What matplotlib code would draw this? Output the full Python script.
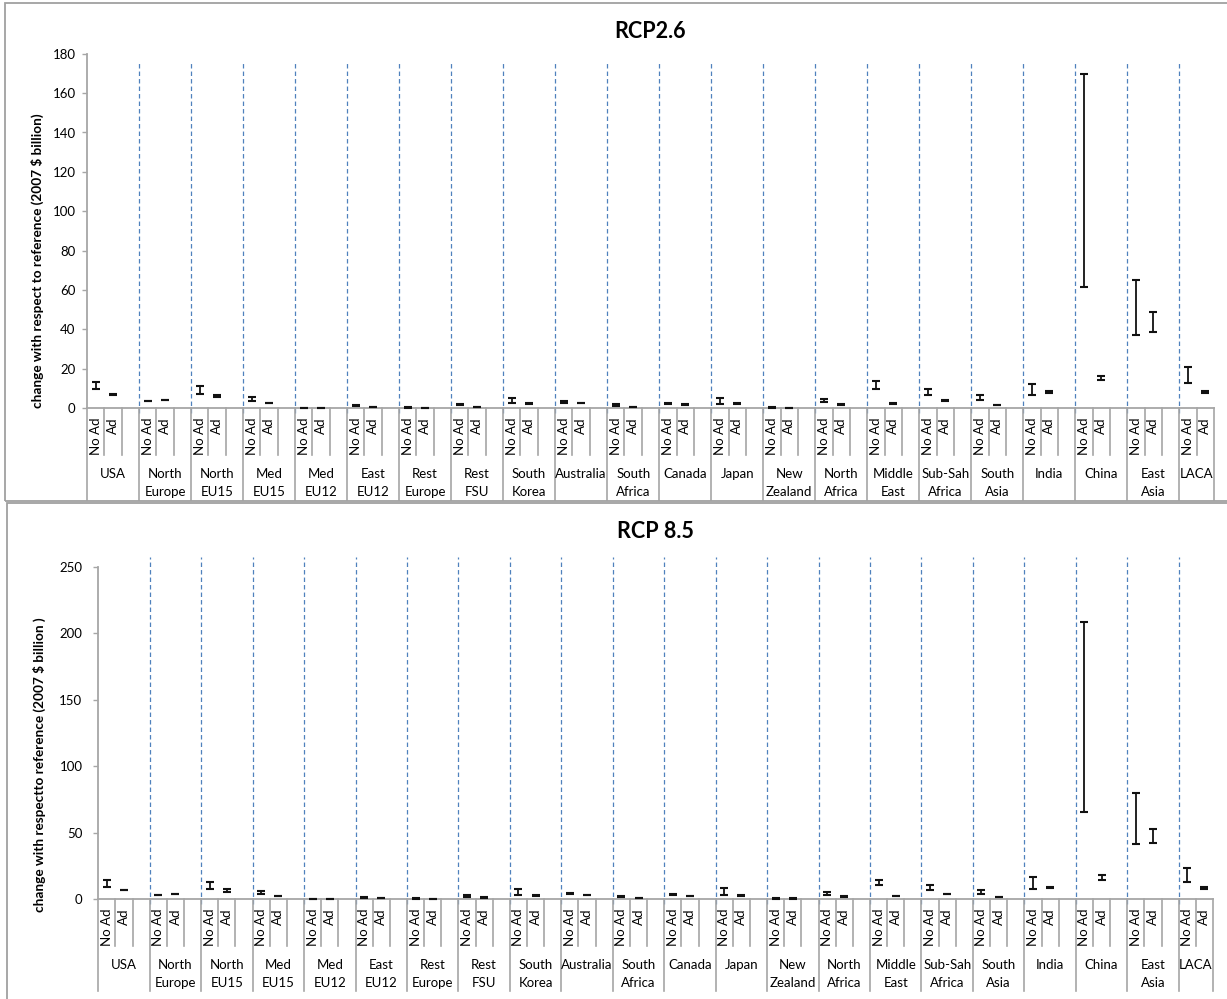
import matplotlib
matplotlib.use("Agg")
import matplotlib.pyplot as plt
from matplotlib.patches import Rectangle

plt.rcParams["font.family"] = ["Lato", "DejaVu Sans"]
plt.rcParams["lines.scale_dashes"] = False

# ---- data -------------------------------------------------------------
regions = ["USA", "North\nEurope", "North\nEU15", "Med\nEU15", "Med\nEU12",
           "East\nEU12", "Rest\nEurope", "Rest\nFSU", "South\nKorea",
           "Australia", "South\nAfrica", "Canada", "Japan", "New\nZealand",
           "North\nAfrica", "Middle\nEast", "Sub-Sah\nAfrica", "South\nAsia",
           "India", "China", "East\nAsia", "LACA"]
cases = ["No Ad", "Ad"]

# RCP2.6: low / high of the range, without (No Ad) and with adaptation (Ad)
noad_low_26 = [9.7, 3.6, 7.3, 3.9, 0.2, 1.3, 0.4, 1.5, 2.7, 2.7, 1.2, 2.2,
               2.2, 0.3, 3.0, 10.0, 7.0, 4.2, 6.9, 61.6, 37.4, 12.9]
noad_high_26 = [13.2, 3.9, 11.4, 5.6, 0.3, 1.5, 0.5, 2.4, 5.4, 3.7, 2.0, 2.9,
                5.4, 0.5, 4.6, 14.1, 9.7, 6.8, 12.3, 169.6, 65.3, 21.0]
ad_low_26 = [6.9, 4.0, 5.9, 2.5, 0.1, 0.7, 0.3, 0.7, 2.0, 2.5, 0.7, 1.8,
             2.0, 0.2, 1.9, 2.2, 3.7, 1.5, 7.9, 14.3, 38.9, 7.8]
ad_high_26 = [7.3, 4.2, 7.0, 2.7, 0.2, 0.8, 0.4, 0.9, 2.6, 2.7, 0.9, 2.0,
              2.6, 0.3, 2.0, 2.5, 4.3, 1.7, 8.6, 16.5, 49.1, 8.8]

# RCP8.5
noad_low_85 = [9.5, 3.0, 7.7, 4.0, 0.2, 1.0, 0.5, 2.0, 3.2, 3.7, 1.5, 3.0,
               3.2, 0.6, 3.5, 10.7, 6.7, 4.2, 7.7, 65.3, 41.5, 13.2]
noad_high_85 = [14.2, 3.6, 13.0, 6.2, 0.3, 1.8, 0.7, 3.5, 7.7, 5.0, 2.5, 4.0,
                8.2, 1.0, 5.5, 14.7, 11.0, 7.0, 16.5, 208.4, 79.7, 23.8]
ad_low_85 = [6.8, 3.7, 5.8, 2.3, 0.1, 0.8, 0.4, 1.2, 2.2, 3.0, 1.2, 2.2,
             2.5, 0.4, 2.0, 2.2, 3.7, 1.5, 8.2, 14.7, 42.2, 8.0]
ad_high_85 = [7.2, 3.8, 7.5, 2.6, 0.2, 1.0, 0.5, 1.5, 3.5, 3.2, 1.3, 2.5,
              3.5, 0.7, 2.3, 2.5, 4.2, 1.8, 9.2, 18.0, 53.0, 9.2]

# ---- style ------------------------------------------------------------
W, H = 1227, 999
AXIS_GREY = "#a6a6a6"
BLUE = "#4f81bd"
BAR = "#111111"

fig = plt.figure(figsize=(W / 100, H / 100), dpi=100)


def rect_px(left, right, top, bottom):
    return [left / W, 1 - bottom / H, (right - left) / W, (bottom - top) / H]


def panel(box, title, title_y, ylabel, ylabel_xy, ymax, ystep, dash_top,
          nlo, nhi, alo, ahi, tickpad):
    left, right, top, bottom = box
    ax = fig.add_axes(rect_px(left, right, top, bottom))
    height_px = bottom - top
    n_slots = 3 * len(regions) - 1
    ax.set_xlim(0, n_slots)
    ax.set_ylim(0, ymax)
    ax.set_yticks(range(0, ymax + 1, ystep))
    ax.set_xticks([])
    for s in ("top", "right"):
        ax.spines[s].set_visible(False)
    for s in ("left", "bottom"):
        ax.spines[s].set_color(AXIS_GREY)
        ax.spines[s].set_linewidth(1.3)
    ax.tick_params(axis="y", length=3.4, width=1, color=AXIS_GREY,
                   labelsize=9.5, labelcolor="#000000", pad=tickpad)

    tr = ax.get_xaxis_transform()
    fr = lambda px: -px / height_px

    # region dividers above the axis
    for i in range(1, len(regions)):
        ax.plot([3 * i, 3 * i], [fr(5), dash_top / ymax], color=BLUE,
                lw=0.9, ls=(0, (3.2, 2.2)), transform=tr, clip_on=False,
                zorder=1)

    # category separators below the axis
    for b in range(0, n_slots + 1):
        long_line = (b % 3 == 0) or b == n_slots
        ax.plot([b, b], [0, fr(92 if long_line else 47)], color=AXIS_GREY,
                lw=1.2, transform=tr, clip_on=False)

    # labels
    for i, name in enumerate(regions):
        for j, c in enumerate(cases):
            ax.text(3 * i + j + 0.5, fr(9), c, rotation=90, ha="center",
                    va="top", fontsize=9.5, transform=tr)
        centre = 3 * i + (1.5 if i < len(regions) - 1 else 1.0)
        ax.text(centre, fr(60), name, ha="center", va="top", fontsize=9.5,
                linespacing=1.58, transform=tr)

    # ranges
    xs_n = [3 * i + 0.5 for i in range(len(regions))]
    xs_a = [3 * i + 1.5 for i in range(len(regions))]
    for xs, lo, hi in ((xs_n, nlo, nhi), (xs_a, alo, ahi)):
        ax.vlines(xs, lo, hi, color=BAR, lw=1.3, zorder=3)
        for vals in (lo, hi):
            ax.plot(xs, vals, ls="none", marker="_", ms=5.8, mew=1.5,
                    color=BAR, clip_on=False, zorder=4)

    fig.text((left + right) / 2 / W, 1 - title_y / H, title, ha="center",
             va="center", fontsize=15.5, fontweight="bold")
    fig.text(ylabel_xy[0] / W, 1 - ylabel_xy[1] / H, ylabel, rotation=90,
             ha="center", va="center", fontsize=9.8, fontweight="bold")
    return ax


panel((87, 1214, 53.7, 408.3), "RCP2.6", 31,
      "change with respect to reference (2007 $ billion)", (37, 261),
      180, 20, 175.3, noad_low_26, noad_high_26, ad_low_26, ad_high_26, 4.8)
panel((98.3, 1213, 566.7, 899.3), "RCP 8.5", 532,
      "change with respectto reference (2007 $ billion )", (39, 765),
      250, 50, 257.5, noad_low_85, noad_high_85, ad_low_85, ad_high_85, 8.0)

# chart frames
for x0, y0, y1 in ((5, 3, 500.5), (6.7, 503, 1010)):
    fig.patches.append(Rectangle((x0 / W, 1 - y1 / H), (1240 - x0) / W,
                                 (y1 - y0) / H, transform=fig.transFigure,
                                 fill=False, ec="#a0a0a0", lw=1.3))

fig.savefig("out.png", dpi=100)
